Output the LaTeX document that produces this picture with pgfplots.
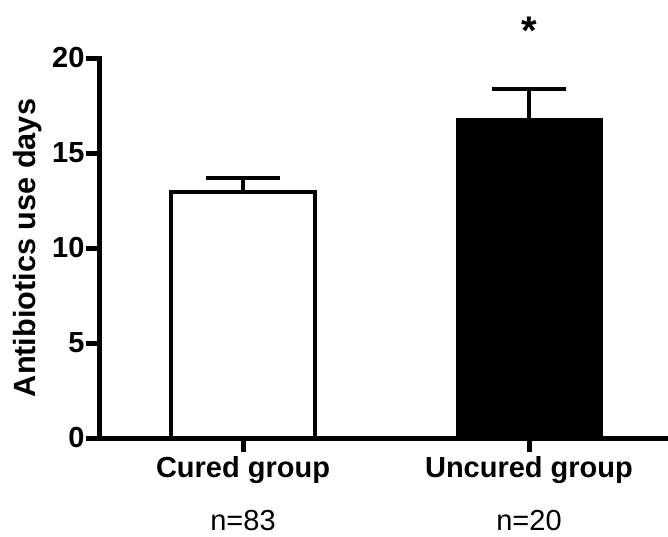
\documentclass[border=0pt]{standalone}
\usepackage{pgfplots}
\pgfplotsset{compat=1.18}
\usepackage{fontspec}
\setmainfont{Liberation Sans}
\begin{document}
\begin{tikzpicture}
\useasboundingbox (-75pt,-73.5pt) rectangle (426pt,328.5pt);
\begin{axis}[
  at={(0,0)}, anchor=south west,
  scale only axis,
  width=426pt, height=285pt,
  xmin=-0.5, xmax=1.486,
  ymin=0, ymax=20,
  axis x line=bottom, axis y line=left,
  axis line style={-, line width=3.75pt, line cap=rect},
  every tick/.style={black, line width=3.75pt},
  tick align=outside,
  major tick length=10.5pt,
  xtick={0,1},
  xticklabels={{\textbf{Cured group}\\[13.5pt]n=83},{\textbf{Uncured group}\\[13.5pt]n=20}},
  xticklabel style={align=center, font=\fontsize{21.75}{26}\selectfont},
  ytick={0,5,10,15,20},
  yticklabel style={font=\fontsize{21.75}{26}\selectfont\bfseries, inner sep=1pt},
  /pgf/number format/assume math mode=true,
  ylabel={\textbf{Antibiotics use days}},
  ylabel style={font=\fontsize{23}{27}\selectfont, at={(axis description cs:-0.1268,0.5)}, anchor=center, rotate=0},
  clip=false,
  bar width=0.5,
]
\addplot[ybar, draw=black, fill=white, line width=3pt,
  error bars/.cd, y dir=plus, y explicit,
  error bar style={line width=3pt, black},
  error mark options={rotate=90, mark size=27.4pt, line width=3pt, black}]
  coordinates {(0,12.93) +- (0,0.77)};
\addplot[ybar, draw=black, fill=black, line width=3pt,
  error bars/.cd, y dir=plus, y explicit,
  error bar style={line width=3pt, black},
  error mark options={rotate=90, mark size=27.4pt, line width=3pt, black}]
  coordinates {(1,16.74) +- (0,1.64)};
\node[font=\fontsize{30}{36}\selectfont\bfseries] at (axis cs:1,21.45) {*};
\end{axis}
\end{tikzpicture}
\end{document}
